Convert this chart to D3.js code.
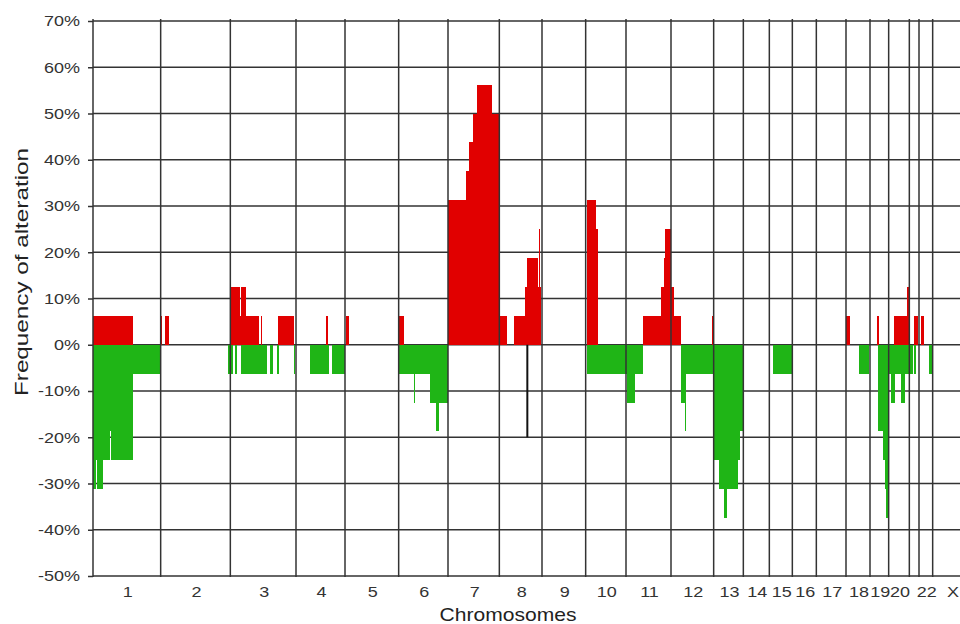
<!DOCTYPE html>
<html>
<head>
<meta charset="utf-8">
<script src="https://cdn.jsdelivr.net/npm/d3@7"></script>
<style>
  html, body { margin: 0; padding: 0; background: #fff; }
  svg { display: block; font-family: "Liberation Sans", Arial, sans-serif; }
</style>
</head>
<body>
<div id="chart"></div>
<script>
// chromosomes and their size in array clones
const chromosomes = ["1","2","3","4","5","6","7","8","9","10","11","12","13","14","15","16","17","18","19","20","21","22","X"];
const chromSizes  = [203,209,197,147,161,148,154,128,131,121,135,128,89,78,69,72,89,72,56,62,29,41,116];
// chromosome 21 has no label under the axis (too narrow)
const hiddenLabels = ["21"];

const yTicks = [-50,-40,-30,-20,-10,0,10,20,30,40,50,60,70];

// gains: [chromosome, start clone, end clone, frequency %]
const gains = [
  ["1", 1, 121, 6.25],
  ["2", 1, 5, 6.25], ["2", 14, 26, 6.25],
  ["3", 2, 29, 12.5], ["3", 29, 33, 6.25], ["3", 33, 47, 12.5], ["3", 47, 85, 6.25],
  ["3", 88, 90, 6.25], ["3", 93, 96, 6.25], ["3", 144, 190, 6.25],
  ["4", 90, 96, 6.25],
  ["5", 2, 13, 6.25],
  ["6", 2, 15, 6.25],
  ["7", 0, 54, 31.25], ["7", 54, 64, 37.5], ["7", 64, 76, 43.75], ["7", 76, 86, 50],
  ["7", 86, 133, 56.25], ["7", 133, 152, 50],
  ["8", 0, 24, 6.25], ["8", 44, 77, 6.25], ["8", 77, 84, 12.5], ["8", 84, 115, 18.75],
  ["8", 115, 118, 12.5], ["8", 118, 122, 25], ["8", 122, 126, 12.5],
  ["10", 3, 30, 31.25], ["10", 30, 36, 25],
  ["11", 50, 104, 6.25], ["11", 104, 114, 12.5], ["11", 114, 118, 18.75], ["11", 118, 135, 25],
  ["12", 0, 10, 12.5], ["12", 10, 30, 6.25], ["12", 122, 127, 6.25],
  ["18", 1, 12, 6.25],
  ["19", 22, 26, 6.25],
  ["20", 17, 54, 6.25], ["20", 54, 60, 12.5], ["20", 60, 62, 6.25],
  ["21", 14, 27, 6.25],
  ["22", 6, 15, 6.25]
];

// losses: [chromosome, start clone, end clone, frequency %]
const losses = [
  ["1", 1, 8, -31.25], ["1", 8, 11, -25], ["1", 11, 29, -31.25], ["1", 29, 52, -25],
  ["1", 52, 55, -18.75], ["1", 55, 121, -25], ["1", 121, 202, -6.25],
  ["2", 201, 209, -6.25],
  ["3", 0, 9, -6.25], ["3", 15, 21, -6.25], ["3", 31, 109, -6.25], ["3", 119, 127, -6.25],
  ["3", 139, 147, -6.25], ["3", 191, 195, -6.25],
  ["4", 42, 98, -6.25], ["4", 107, 147, -6.25],
  ["6", 2, 46, -6.25], ["6", 46, 50, -12.5], ["6", 50, 94, -6.25], ["6", 94, 111, -12.5],
  ["6", 111, 122, -18.75], ["6", 122, 148, -12.5],
  ["10", 3, 121, -6.25],
  ["11", 0, 2, -6.25], ["11", 2, 27, -12.5], ["11", 27, 50, -6.25],
  ["12", 30, 43, -12.5], ["12", 43, 46, -18.75], ["12", 46, 125, -6.25],
  ["13", 0, 15, -25], ["13", 15, 32, -31.25], ["13", 32, 41, -37.5], ["13", 41, 74, -31.25],
  ["13", 74, 78, -25], ["13", 78, 87, -18.75],
  ["15", 12, 67, -6.25],
  ["18", 38, 70, -6.25],
  ["19", 25, 40, -18.75], ["19", 40, 46, -25], ["19", 46, 49, -31.25], ["19", 49, 54, -37.5],
  ["19", 54, 56, -6.25],
  ["20", 0, 7, -6.25], ["20", 7, 19, -12.5], ["20", 19, 38, -6.25], ["20", 38, 50, -12.5],
  ["20", 50, 62, -6.25],
  ["21", 0, 12, -6.25], ["21", 15, 20, -6.25],
  ["22", 31, 40, -6.25]
];

// single black mark on chromosome 8: [chromosome, clone, value %]
const otherMarks = [["8", 84, -20]];

const W = 960, H = 624;
const red = "#e10000", green = "#1fb516", gridCol = "#333";
const stretch = 1.2; // text in the original is a bit wide

// cumulative start of each chromosome
const chromStart = {};
let acc = 0;
chromosomes.forEach((c, i) => { chromStart[c] = acc; acc += chromSizes[i]; });
const total = acc;

const x = d3.scaleLinear().domain([0, total]).range([93, 93 + total / 3]);
const y = d3.scaleLinear().domain([-50, 70]).range([576, 21]);

const svg = d3.select("#chart").append("svg")
  .attr("width", W).attr("height", H);

// horizontal grid (behind bars)
svg.append("g").selectAll("line")
  .data(yTicks)
  .enter().append("line")
    .attr("x1", x(0)).attr("x2", x(total))
    .attr("y1", d => y(d)).attr("y2", d => y(d))
    .attr("stroke", gridCol).attr("stroke-width", 1.5);

function drawBars(data, color) {
  svg.append("g").selectAll("rect")
    .data(data)
    .enter().append("rect")
      .attr("x", d => x(chromStart[d[0]] + d[1]))
      .attr("width", d => x(chromStart[d[0]] + d[2]) - x(chromStart[d[0]] + d[1]))
      .attr("y", d => y(Math.max(0, d[3])))
      .attr("height", d => Math.abs(y(d[3]) - y(0)))
      .attr("fill", color)
      .attr("shape-rendering", "crispEdges");
}
drawBars(gains, red);
drawBars(losses, green);

svg.append("g").selectAll("line")
  .data(otherMarks)
  .enter().append("line")
    .attr("x1", d => x(chromStart[d[0]] + d[1])).attr("x2", d => x(chromStart[d[0]] + d[1]))
    .attr("y1", y(0)).attr("y2", d => y(d[2]))
    .attr("stroke", "#111").attr("stroke-width", 2);

// chromosome boundaries (on top of bars)
const bounds = chromosomes.slice(0, -1).map(c => chromStart[c] + chromSizes[chromosomes.indexOf(c)]);
svg.append("g").selectAll("line")
  .data([0].concat(bounds))
  .enter().append("line")
    .attr("x1", d => x(d)).attr("x2", d => x(d))
    .attr("y1", y(70) - 2).attr("y2", y(-50) + 1)
    .attr("stroke", gridCol).attr("stroke-width", 1.5);

// y axis
const yAxis = svg.append("g")
  .attr("transform", `translate(${x(0)},0)`)
  .call(d3.axisLeft(y).tickValues(yTicks).tickFormat(d => d + "%").tickSize(5).tickPadding(0));
yAxis.select(".domain").remove();
yAxis.selectAll(".tick line").attr("stroke", gridCol).attr("stroke-width", 1.5);
yAxis.selectAll(".tick text")
  .attr("x", -13 / stretch)
  .attr("transform", `scale(${stretch},1)`)
  .attr("fill", "#333")
  .style("font-size", "15px");

// chromosome labels
svg.append("g").selectAll("text")
  .data(chromosomes.filter(c => !hiddenLabels.includes(c)))
  .enter().append("text")
    .attr("transform", c => {
      const mid = x(chromStart[c] + chromSizes[chromosomes.indexOf(c)] / 2);
      return `translate(${mid + 1},597) scale(${stretch},1)`;
    })
    .attr("text-anchor", "middle")
    .attr("fill", "#333")
    .style("font-size", "15px")
    .text(c => c);

svg.append("text")
  .attr("transform", `translate(508,621) scale(1.17,1)`)
  .attr("text-anchor", "middle")
  .attr("fill", "#222")
  .style("font-size", "18px")
  .text("Chromosomes");

svg.append("text")
  .attr("transform", "translate(28,272) rotate(-90)")
  .attr("text-anchor", "middle")
  .attr("fill", "#222")
  .attr("textLength", 248)
  .attr("lengthAdjust", "spacingAndGlyphs")
  .style("font-size", "19px")
  .text("Frequency of alteration");
</script>
</body>
</html>
